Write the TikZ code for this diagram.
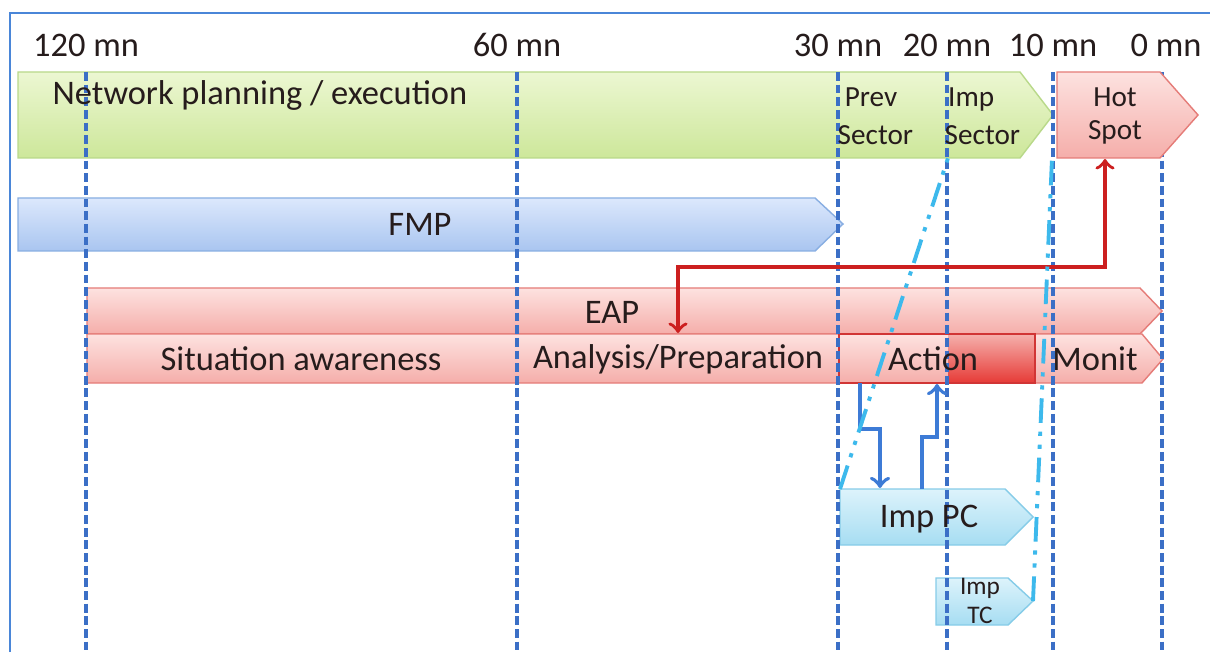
\documentclass[tikz,border=0pt]{standalone}
\usepackage{fontspec}
\setmainfont{Carlito}
\usetikzlibrary{positioning}
\usetikzlibrary{calc}

\definecolor{frameblue}{HTML}{4A86D8}
\definecolor{gridblue}{HTML}{3B6FC6}
\definecolor{greenTop}{HTML}{ECF7D2}
\definecolor{greenBot}{HTML}{CDE79A}
\definecolor{greenLine}{HTML}{B9D98A}
\definecolor{blueTop}{HTML}{DCE8FC}
\definecolor{blueBot}{HTML}{A9C5F0}
\definecolor{blueLine}{HTML}{88AEE2}
\definecolor{redTop}{HTML}{FDE2E0}
\definecolor{redBot}{HTML}{F5AEAA}
\definecolor{redLine}{HTML}{E57C78}
\definecolor{actDark}{HTML}{E63A36}
\definecolor{cyanTop}{HTML}{DDF3FB}
\definecolor{cyanBot}{HTML}{A6DDF2}
\definecolor{cyanLine}{HTML}{86CCE8}
\definecolor{linkred}{HTML}{CC1F1F}
\definecolor{linkblue}{HTML}{3D7BD6}
\definecolor{linkcyan}{HTML}{3DB9EC}
\definecolor{txt}{HTML}{261C1C}

\tikzset{
  greenbar/.style={draw=greenLine, top color=greenTop, bottom color=greenBot},
  bluebar/.style={draw=blueLine, top color=blueTop, bottom color=blueBot},
  redbar/.style={draw=redLine, top color=redTop, bottom color=redBot},
  cyanbar/.style={draw=cyanLine, top color=cyanTop, bottom color=cyanBot},
  gridline/.style={gridblue, line width=1pt, dash pattern=on 2.5pt off 1.1pt},
  lbl/.style={text=txt, inner sep=0pt, font=\fontsize{9.8}{11.5}\selectfont},
  smalllbl/.style={text=txt, inner sep=0pt, align=left, font=\fontsize{8.3}{10.8}\selectfont},
  redlink/.style={linkred, line width=1pt},
  bluelink/.style={linkblue, line width=1.1pt},
  cyanlink/.style={linkcyan, line width=1.1pt, dash pattern=on 7pt off 2.5pt on 1.2pt off 2.5pt on 1.2pt off 2.5pt}
}

\begin{document}
\begin{tikzpicture}[x=0.01cm,y=-0.01cm]
\useasboundingbox (0,0) rectangle (1210,652);
\fill[white] (0,0) rectangle (1210,652);
% frame
\draw[frameblue, line width=0.7pt] (10,652) -- (10,13) -- (1210,13);

% bars
\draw[greenbar] (18,72) -- (1020,72) -- (1053,115) -- (1020,158) -- (18,158) -- cycle;
\draw[bluebar] (18,198) -- (815,198) -- (843,224) -- (815,251) -- (18,251) -- cycle;
\draw[redbar] (87,288) -- (1140,288) -- (1162,311) -- (1140,334) -- (87,334) -- cycle;
\draw[redbar] (87,334) -- (1142,334) -- (1163,359) -- (1142,383) -- (87,383) -- cycle;
\shade[top color=redBot, bottom color=actDark] (948,335) rectangle (1035,383);
\draw[linkred!90, line width=0.8pt] (839,334) rectangle (1035,383);
\draw[cyanbar] (840,489) -- (1005,489) -- (1033,517) -- (1005,545) -- (840,545) -- cycle;
\draw[cyanbar] (936,578) -- (1008,578) -- (1033,601) -- (1008,625) -- (936,625) -- cycle;

% time grid
\foreach \x/\t in {86/120,517/60,838/30,947/20,1053/10,1162/0}
  \draw[gridline] (\x,72) -- (\x,652);
\foreach \x/\t in {86/120,517/60,838/30,947/20,1053/10,1166/0}
  \node[lbl] (t\t) at (\x,45) {\t\ mn};

\draw[redbar] (1057,72) -- (1160,72) -- (1198,115) -- (1160,158) -- (1057,158) -- cycle;

% labels
\node[lbl, anchor=west] (netplan) at (52,96) {Network planning / execution};
\node[smalllbl, anchor=west] (prevsec) at (837,116) {\hspace{2pt}Prev\\Sector};
\node[smalllbl, anchor=west] (impsec) at (944,116) {\hspace{1pt}Imp\\Sector};
\node[smalllbl, align=center, font=\fontsize{8.3}{9.6}\selectfont] (hotspot) at (1115,116) {Hot\\Spot};
\node[lbl] (fmp) at (420,224) {FMP};
\node[lbl] (eap) at (612,312) {EAP};
\node[lbl] (sitaw) at (301,359) {Situation awareness};
\node[lbl] (anaprep) at (678,359) {Analysis/Preparation};
\node[lbl] (action) at (933,359) {Action};
\node[lbl] (monit) at (1095,359) {Monit};
\node[lbl] (imppc) at (929,519) {Imp PC};
\node[smalllbl, align=center, font=\fontsize{7.2}{8}\selectfont] (imptc) at (980,601) {Imp\\TC};

% link points
\coordinate (eapdown) at (678,333);
\coordinate (hotup) at (1105,159);
\coordinate (actout) at (860,383);
\coordinate (pcin) at (880,488);
\coordinate (pcout) at (922,489);
\coordinate (actin) at (937,384);
\coordinate (pcnw) at (840,489);
\coordinate (impsecsw) at (948,158);
\coordinate (tctip) at (1033,601);
\coordinate (hotsw) at (1052,158);

% links
\draw[redlink,<->] (eapdown) -- ++(0,-66) -| (hotup);
\draw[bluelink,->] (actout) -- ++(0,46) -| (pcin);
\draw[bluelink,->] (pcout) -- ++(0,-52) -| (actin);
\draw[cyanlink] (pcnw) -- (impsecsw);
\draw[cyanlink] (tctip) -- (hotsw);
\end{tikzpicture}
\end{document}
